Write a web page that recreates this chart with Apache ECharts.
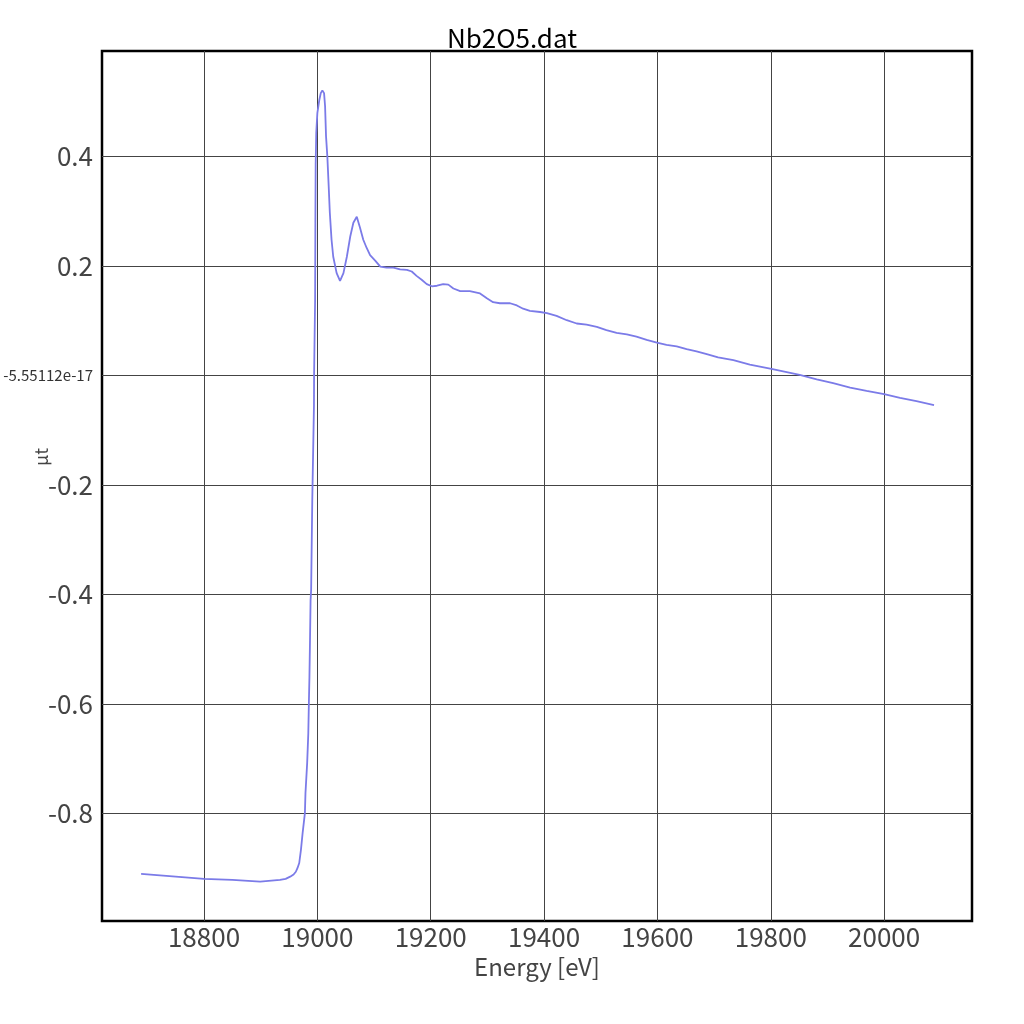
<!DOCTYPE html>
<html><head><meta charset="utf-8">
<script src="https://cdn.jsdelivr.net/npm/echarts@6/dist/echarts.min.js"></script>
<style>html,body{margin:0;padding:0;background:#fff}#c{width:1024px;height:1024px}</style>
</head><body><div id="c"></div>
<script>
const energy = [18689,18800,18850,18899,18934,18944,18952,18958,18962,18965,18968,18971,18974,18978,18979,18982,18984,18985,18986,18987,18988,18989,18991,18994,18994.2,18996,18996.5,18997,18998,19000,19003.5,19006,19008.8,19011.8,19013.6,19015.3,19017.6,19020,19022,19025,19028,19034,19040,19046,19052,19058,19063.5,19069.5,19075,19081,19087,19093,19102,19111,19122,19134,19146,19158,19166.5,19175,19184,19193,19202,19211,19222,19231,19240,19252,19269,19287,19299,19310,19322,19340,19352,19363,19375,19393,19405,19422,19440,19457.5,19475,19493,19510,19528,19546,19563,19581,19599,19616,19634,19651.5,19669,19687,19707,19734,19763,19801,19851,19881,19910,19940,19969,20000,20028,20057,20088];
const mut = [-0.911,-0.920,-0.922,-0.925,-0.922,-0.920,-0.916,-0.912,-0.907,-0.900,-0.891,-0.867,-0.836,-0.800,-0.763,-0.708,-0.654,-0.599,-0.551,-0.484,-0.411,-0.392,-0.228,-0.054,0.0,0.138,0.279,0.385,0.443,0.480,0.504,0.516,0.521,0.516,0.492,0.437,0.400,0.345,0.297,0.248,0.217,0.187,0.173,0.187,0.217,0.254,0.279,0.290,0.271,0.248,0.233,0.220,0.210,0.199,0.197,0.197,0.194,0.193,0.190,0.182,0.175,0.167,0.163,0.164,0.167,0.166,0.159,0.154,0.154,0.150,0.141,0.134,0.132,0.132,0.128,0.122,0.118,0.116,0.114,0.109,0.101,0.095,0.093,0.089,0.083,0.078,0.075,0.071,0.065,0.060,0.056,0.053,0.048,0.044,0.039,0.033,0.028,0.020,0.012,0.001,-0.007,-0.014,-0.022,-0.028,-0.034,-0.041,-0.047,-0.054];
const xTicks = [18800,19000,19200,19400,19600,19800,20000];
const yTicks = [-0.8,-0.6,-0.4,-0.2,0,0.2,0.4];
const yTickLabels = ['-0.8','-0.6','-0.4','-0.2','-5.55112e-17','0.2','0.4'];
const titleText = 'Nb2O5.dat';
const xName = 'Energy [eV]';
const yName = 'µt';

const FONT = '"Noto Sans CJK JP", "Noto Sans", sans-serif';
const chart = echarts.init(document.getElementById('c'), null, {renderer:'canvas'});
function yLabel(v){
  for (let i=0;i<yTicks.length;i++){ if (Math.abs(v-yTicks[i])<1e-6) return i===4 ? '{s|'+yTickLabels[i]+'}' : yTickLabels[i]; }
  return '';
}
function xLabel(v){
  for (const t of xTicks){ if (Math.abs(v-t)<1e-6) return String(t); }
  return '';
}
chart.setOption({
  animation:false,
  backgroundColor:'#fff',
  title:{text:titleText,left:'center',top:20,textStyle:{fontFamily:FONT,fontSize:26,fontWeight:'normal',color:'#000'}},
  grid:{left:102,top:51,right:52,bottom:103,show:true,borderColor:'#000',borderWidth:2.5,backgroundColor:'transparent'},
  xAxis:{type:'value',min:18620,max:20155,
    name:xName,nameLocation:'middle',nameGap:32,
    nameTextStyle:{fontFamily:FONT,fontSize:24,color:'#444'},
    axisLine:{show:false},axisTick:{show:false,customValues:xTicks},
    axisLabel:{fontFamily:FONT,fontSize:26,color:'#444',margin:3,formatter:xLabel,customValues:xTicks},
    splitLine:{show:true,lineStyle:{color:'#444',width:1}}},
  yAxis:{type:'value',min:-0.997,max:0.593,
    axisLine:{show:false},axisTick:{show:false,customValues:yTicks},
    axisLabel:{fontFamily:FONT,fontSize:26,color:'#444',margin:9,formatter:yLabel,customValues:yTicks,
      rich:{s:{fontFamily:FONT,fontSize:15,color:'#333'}}},
    splitLine:{show:true,lineStyle:{color:'#444',width:1}}},
  graphic:[{type:'text',left:32,top:448,rotation:Math.PI/2,style:{text:yName,font:'18px '+FONT,fill:'#444'}}],
  series:[{type:'line',data:energy.map((e,i)=>[e,mut[i]]),showSymbol:false,symbol:'none',
    lineStyle:{color:'#7b7be8',width:1.8},smooth:false}]
});
</script></body></html>
